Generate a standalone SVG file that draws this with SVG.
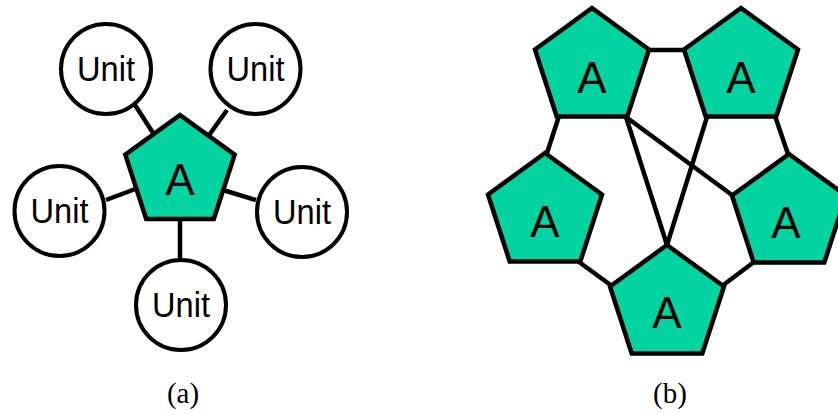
<svg xmlns="http://www.w3.org/2000/svg" width="838" height="414" viewBox="0 0 838 414">
<defs>
<style>
.pent{fill:#02D3A0;stroke:#000;stroke-width:4.5;stroke-linejoin:miter}
.unit{fill:#fff;stroke:#000;stroke-width:4}
.ln{stroke:#000;stroke-width:4.5;fill:none}
.ta{font-family:"Liberation Sans",Arial,sans-serif;font-size:44px;text-anchor:middle;fill:#000}
.tu{font-family:"Liberation Sans",Arial,sans-serif;font-size:35px;text-anchor:middle;fill:#000}
.cap{font-family:"Liberation Serif","Times New Roman",serif;font-size:29px;text-anchor:middle;fill:#000}
</style>
<polygon id="pa" points="0,-57.5 54.7,-17.8 33.8,46.5 -33.8,46.5 -54.7,-17.8"/>
<polygon id="pb" points="0,-60 57,-18.5 35.3,48.5 -35.3,48.5 -57,-18.5"/>
</defs>
<g id="connectors">
<line class="ln" x1="135" y1="105" x2="155" y2="136"/>
<line class="ln" x1="227" y1="110" x2="207" y2="138"/>
<line class="ln" x1="106" y1="200" x2="138" y2="188"/>
<line class="ln" x1="223" y1="190" x2="256" y2="200"/>
<line class="ln" x1="180" y1="219" x2="180" y2="259"/>
<line class="ln" x1="649" y1="50" x2="684" y2="50"/>
<line class="ln" x1="559" y1="116" x2="547" y2="153"/>
<line class="ln" x1="775" y1="116" x2="788" y2="154"/>
<line class="ln" x1="579" y1="262" x2="612" y2="286"/>
<line class="ln" x1="754" y1="262" x2="722" y2="286"/>
<line class="ln" x1="626" y1="117" x2="667" y2="245"/>
<line class="ln" x1="626" y1="117" x2="732" y2="195"/>
<line class="ln" x1="707" y1="117" x2="667" y2="245"/>
</g>
<g id="a-center"><use href="#pa" class="pent" transform="translate(180,172.5)"/><text class="ta" x="180" y="195">A</text></g>
<g id="a-unit-tl"><circle class="unit" cx="106" cy="69" r="45"/><text class="tu" x="106" y="81" textLength="58" lengthAdjust="spacingAndGlyphs">Unit</text></g>
<g id="a-unit-tr"><circle class="unit" cx="255.5" cy="69" r="45"/><text class="tu" x="255.5" y="81" textLength="58" lengthAdjust="spacingAndGlyphs">Unit</text></g>
<g id="a-unit-l"><circle class="unit" cx="59.5" cy="211" r="45"/><text class="tu" x="59.5" y="223" textLength="58" lengthAdjust="spacingAndGlyphs">Unit</text></g>
<g id="a-unit-r"><circle class="unit" cx="302" cy="212" r="45"/><text class="tu" x="302" y="224" textLength="58" lengthAdjust="spacingAndGlyphs">Unit</text></g>
<g id="a-unit-b"><circle class="unit" cx="181" cy="305" r="45"/><text class="tu" x="181" y="317" textLength="58" lengthAdjust="spacingAndGlyphs">Unit</text></g>
<g id="b-tl"><use href="#pb" class="pent" transform="translate(592,68)"/><text class="ta" x="592" y="93">A</text></g>
<g id="b-tr"><use href="#pb" class="pent" transform="translate(741,68)"/><text class="ta" x="741" y="93">A</text></g>
<g id="b-l"><use href="#pb" class="pent" transform="translate(545,213)"/><text class="ta" x="545" y="237">A</text></g>
<g id="b-r"><use href="#pb" class="pent" transform="translate(789,214)"/><text class="ta" x="786" y="238">A</text></g>
<g id="b-b"><use href="#pb" class="pent" transform="translate(667,305)"/><text class="ta" x="667" y="328">A</text></g>
<text class="cap" x="183" y="403">(a)</text>
<text class="cap" x="670" y="403">(b)</text>
</svg>
